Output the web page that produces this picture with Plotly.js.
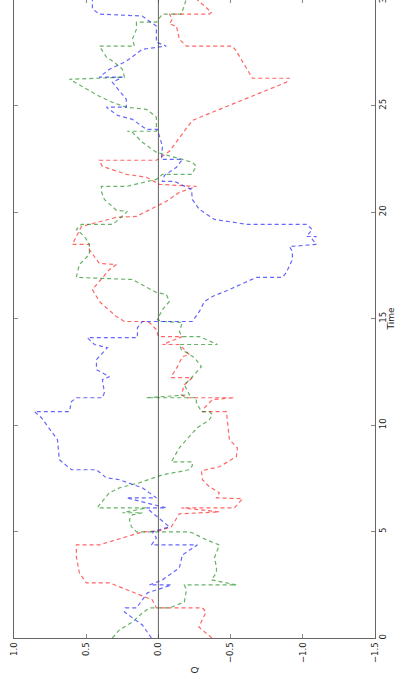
<!DOCTYPE html>
<html>
<head>
<meta charset="utf-8">
<script src="https://cdn.plot.ly/plotly-3.0.1.min.js"></script>
<style>
html,body{margin:0;padding:0;background:#fff;overflow:hidden;}
#chart{position:absolute;left:0;top:-1px;width:396px;height:685px;}
</style>
</head>
<body>
<div id="chart"></div>
<script>
// Series (time, Q)
const redTime = [0,0.52,1.22,1.41,1.41,1.79,2.59,2.59,3.06,3.81,4.37,4.37,4.98,5.03,5.22,5.83,5.92,6.11,6.11,6.54,6.58,6.82,7.1,7.43,7.85,8.04,8.51,8.93,9.31,10.48,10.63,10.63,10.81,11.19,11.28,11.28,11.42,11.89,12.22,12.22,12.36,12.74,13.21,13.3,13.78,13.78,13.96,14.15,14.15,14.48,14.81,14.86,14.86,15.09,15.8,16.36,17.3,17.54,17.58,18.24,18.48,18.48,18.85,19.32,19.75,19.79,20.03,20.5,20.92,21.2,21.3,21.63,21.77,22.14,22.43,22.43,22.85,23.5,24.3,26.09,26.28,26.28,27.55,27.79,27.79,28.11,28.73,28.82,29.06,29.29,29.29,29.38,30];
const redQ = [-0.37,-0.28,-0.33,-0.305,0.014,0.042,0.339,0.499,0.547,0.568,0.568,0.409,0.111,-0.007,-0.09,-0.145,-0.422,-0.159,-0.526,-0.582,-0.402,-0.422,-0.353,-0.305,-0.298,-0.422,-0.54,-0.547,-0.492,-0.471,-0.471,-0.305,-0.319,-0.374,-0.526,-0.194,-0.159,-0.18,-0.235,-0.09,-0.097,-0.132,-0.166,-0.215,-0.145,-0.028,-0.097,-0.166,0.0,0.014,0.062,0.083,0.235,0.291,0.409,0.457,0.339,0.291,0.409,0.478,0.478,0.596,0.568,0.533,0.291,0.152,0.083,-0.055,-0.145,-0.263,-0.007,0.083,0.222,0.388,0.409,0.014,-0.076,-0.145,-0.235,-0.886,-0.907,-0.651,-0.54,-0.512,-0.194,-0.145,-0.125,-0.076,-0.097,-0.076,-0.353,-0.367,-0.263];

const blueTime = [0,0.61,1.22,1.41,1.41,2.12,2.49,2.49,2.73,3.29,3.9,4.37,4.37,4.7,4.98,5.22,5.88,6.11,6.11,6.58,6.58,7.05,7.43,7.52,7.9,7.9,8.37,9.31,10.34,10.63,10.63,11.1,11.28,11.28,11.52,12.13,12.27,12.6,13.07,13.63,13.78,14.1,14.1,14.57,14.86,14.86,15.33,15.8,16.03,16.36,16.93,16.93,17.16,17.77,18.15,18.38,18.48,18.71,18.85,18.85,19.18,19.42,19.42,19.65,20.12,20.59,21.06,21.44,21.44,21.72,22.1,22.47,22.47,23.08,23.88,23.88,24.35,24.54,24.92,24.92,25.29,26.09,26.33,26.33,26.7,27.08,27.64,27.79,27.97,28.73,29.2,29.29,29.53,30];
const blueQ = [0.048,0.111,0.235,0.229,0.152,0.076,-0.09,0.062,-0.028,-0.145,-0.166,-0.27,0.048,0.014,0.042,-0.076,0.042,0.083,-0.055,0.222,0.014,0.111,0.27,0.36,0.429,0.602,0.686,0.699,0.81,0.859,0.616,0.602,0.568,0.388,0.374,0.388,0.339,0.429,0.429,0.353,0.443,0.492,0.145,0.145,0.111,-0.235,-0.284,-0.319,-0.374,-0.492,-0.679,-0.859,-0.886,-0.928,-0.928,-0.907,-1.094,-1.066,-1.094,-1.025,-1.066,-1.025,-0.616,-0.388,-0.284,-0.235,-0.229,-0.111,-0.028,-0.042,-0.125,-0.166,-0.021,-0.028,0.007,0.083,0.18,0.284,0.36,0.222,0.222,0.319,0.249,0.409,0.339,0.222,0.111,-0.055,0.014,0.014,0.111,0.409,0.457,0.457];

const greenTime = [0,0.38,0.75,1.18,1.41,1.41,1.69,2.26,2.49,2.49,2.73,3.06,3.34,3.76,4.37,4.61,4.94,4.98,4.98,5.22,5.55,5.78,5.88,5.88,6.11,6.11,6.25,6.82,7.05,7.29,7.66,7.9,8.09,8.27,8.27,8.93,9.31,9.87,10.25,10.48,10.63,10.63,11.05,11.28,11.28,11.42,11.89,12.22,12.74,13.16,13.4,13.54,13.78,13.78,14.15,14.15,14.39,14.81,14.86,14.95,15.42,15.8,16.13,16.22,16.83,16.93,17.16,17.54,18.01,18.48,18.85,19.18,19.42,19.42,19.56,20.03,20.08,20.59,20.97,21.2,21.2,21.53,21.77,21.77,22.14,22.33,22.47,22.8,23.27,23.74,23.79,23.79,24.45,24.82,24.92,25.15,25.43,25.86,26.23,26.33,26.7,27.03,27.27,27.79,27.79,28.11,28.58,28.91,28.91,29.29,29.29,30];
const greenQ = [0.319,0.27,0.18,0.111,0.062,-0.076,-0.18,-0.194,-0.18,-0.54,-0.367,-0.402,-0.402,-0.388,-0.422,-0.332,-0.235,-0.194,0.152,0.187,0.201,0.18,0.111,0.249,0.083,0.422,0.409,0.339,0.27,0.132,-0.028,-0.215,-0.235,-0.235,-0.09,-0.145,-0.194,-0.27,-0.353,-0.374,-0.353,-0.298,-0.263,-0.263,0.083,-0.215,-0.18,-0.229,-0.298,-0.249,-0.194,-0.159,-0.145,-0.409,-0.284,-0.166,-0.145,-0.166,-0.028,0.007,-0.028,-0.076,-0.055,0.014,0.18,0.568,0.561,0.547,0.478,0.478,0.512,0.568,0.533,0.319,0.291,0.215,0.291,0.374,0.395,0.395,0.222,0.014,-0.028,-0.229,-0.263,-0.235,-0.166,0.014,0.111,0.18,0.215,0.014,0.014,0.083,0.222,0.319,0.409,0.526,0.616,0.235,0.249,0.305,0.36,0.409,0.166,0.18,0.152,0.152,0.014,-0.028,-0.159,-0.194];

const qTicks = [1.0,0.5,0.0,-0.5,-1.0,-1.5];
const timeTicks = [0,5,10,15,20,25,30];

const dash = '4px,3px';
function series(t, q, color){
  return {x:q, y:t, type:'scatter', mode:'lines', hoverinfo:'skip',
    line:{color:color, width:1.2, dash:dash}};
}
const traces = [
  series(redTime, redQ, 'rgba(255,0,0,0.6)'),
  series(greenTime, greenQ, 'rgba(0,128,0,0.6)'),
  series(blueTime, blueQ, 'rgba(0,0,255,0.6)')
];

const axisCommon = {
  showline:true, linecolor:'#666', linewidth:1, mirror:'allticks',
  ticks:'inside', ticklen:4, tickcolor:'#888', tickwidth:1,
  showgrid:false, zeroline:false, tickangle:-90, ticklabeloverflow:'allow',
  tickfont:{family:'DejaVu Sans', size:8.5, color:'#222'}
};

const layout = {
  width:396, height:685,
  margin:{l:14, r:21, t:0, b:46},
  paper_bgcolor:'#fff', plot_bgcolor:'#fff',
  showlegend:false,
  xaxis:Object.assign({}, axisCommon, {
    range:[1.0,-1.5], tickvals:qTicks, tickformat:'.1f'
  }),
  yaxis:Object.assign({}, axisCommon, {
    range:[0,30], tickvals:timeTicks, side:'right',
    title:{text:'Time', font:{family:'DejaVu Sans', size:9, color:'#222'}, standoff:4}
  }),
  shapes:[{type:'line', xref:'x', yref:'paper', x0:0, x1:0, y0:0, y1:1,
    line:{color:'rgba(60,60,60,0.8)', width:1}}],
  annotations:[{text:'Q', xref:'paper', yref:'paper', x:0.5, y:-0.05,
    showarrow:false, textangle:-90, xanchor:'center', yanchor:'middle',
    font:{family:'DejaVu Sans', size:9, color:'#222'}}]
};

Plotly.newPlot('chart', traces, layout, {staticPlot:true, displayModeBar:false});
</script>
</body>
</html>
